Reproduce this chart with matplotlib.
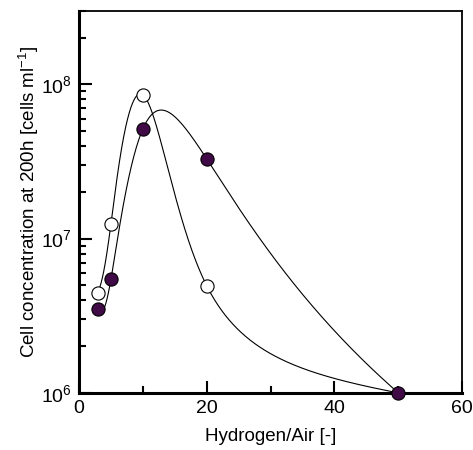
import numpy as np
import matplotlib
matplotlib.use("Agg")
import matplotlib.pyplot as plt
from matplotlib.ticker import LogLocator, NullFormatter, FixedLocator

plt.rcParams['font.family'] = ['Liberation Sans', 'DejaVu Sans']
plt.rcParams['mathtext.fontset'] = 'custom'
plt.rcParams['mathtext.rm'] = 'Liberation Sans'
plt.rcParams['mathtext.it'] = 'Liberation Sans:italic'

# data
ratio = [3, 5, 10, 20, 50]
open_vals = [4.46e6, 1.24e7, 8.58e7, 4.95e6, 1.0e6]
filled_vals = [3.48e6, 5.44e6, 5.14e7, 3.29e7, 1.0e6]
xticks = [0, 20, 40, 60]


def natural_spline(x, y, xs):
    x = np.asarray(x, float)
    y = np.asarray(y, float)
    n = len(x)
    h = np.diff(x)
    A = np.zeros((n, n))
    b = np.zeros(n)
    A[0, 0] = 1
    A[-1, -1] = 1
    for i in range(1, n - 1):
        A[i, i - 1] = h[i - 1]
        A[i, i] = 2 * (h[i - 1] + h[i])
        A[i, i + 1] = h[i]
        b[i] = 3 * ((y[i + 1] - y[i]) / h[i] - (y[i] - y[i - 1]) / h[i - 1])
    c = np.linalg.solve(A, b)
    out = np.empty_like(xs)
    for k, xv in enumerate(xs):
        i = min(max(np.searchsorted(x, xv) - 1, 0), n - 2)
        dx = xv - x[i]
        bb = (y[i + 1] - y[i]) / h[i] - h[i] * (2 * c[i] + c[i + 1]) / 3
        d = (c[i + 1] - c[i]) / (3 * h[i])
        out[k] = y[i] + bb * dx + c[i] * dx ** 2 + d * dx ** 3
    return out


def smooth_curve(x, y):
    # parametric spline through the data points (log-log space)
    t = np.arange(len(x), dtype=float)
    ts = np.linspace(0, t[-1], 800)
    lx = natural_spline(t, np.log10(x), ts)
    ly = natural_spline(t, np.log10(y), ts)
    return 10 ** lx, 10 ** ly


fig = plt.figure(figsize=(4.73, 4.5), dpi=100)
ax = fig.add_axes([0.167, 0.127, 0.81, 0.849])

for vals in (open_vals, filled_vals):
    cx, cy = smooth_curve(ratio, vals)
    ax.plot(cx, cy, color='black', lw=0.8, zorder=2)

ax.plot(ratio[:-1], open_vals[:-1], 'o', ms=9.5, mfc='white', mec='black', mew=0.8, zorder=3)
ax.plot(ratio, filled_vals, 'o', ms=9.5, mfc='#3f0a45', mec='black', mew=0.8, zorder=4, clip_on=False)

ax.set_yscale('log')
ax.set_ylim(1e6, 3e8)
ax.set_xlim(0, 60)
ax.xaxis.set_major_locator(FixedLocator(xticks))
ax.xaxis.set_minor_locator(FixedLocator([10, 30, 50]))
ax.yaxis.set_major_locator(LogLocator(base=10, numticks=10))
ax.yaxis.set_minor_locator(LogLocator(base=10, subs=np.arange(2, 10), numticks=20))
ax.yaxis.set_minor_formatter(NullFormatter())

ax.tick_params(which='both', direction='in', top=False, right=False, labelsize=14, width=1.5, pad=5)
ax.tick_params(which='major', length=9)
ax.tick_params(which='minor', length=5)

for s in ['left', 'bottom']:
    ax.spines[s].set_linewidth(2.2)
for s in ['top', 'right']:
    ax.spines[s].set_linewidth(1.3)

ax.set_xlabel('Hydrogen/Air [-]', fontsize=13.5, labelpad=8)
ax.set_ylabel('Cell concentration at 200h [cells ml$^{-1}$]', fontsize=13.5, labelpad=0)

fig.savefig('out.png', dpi=100)
